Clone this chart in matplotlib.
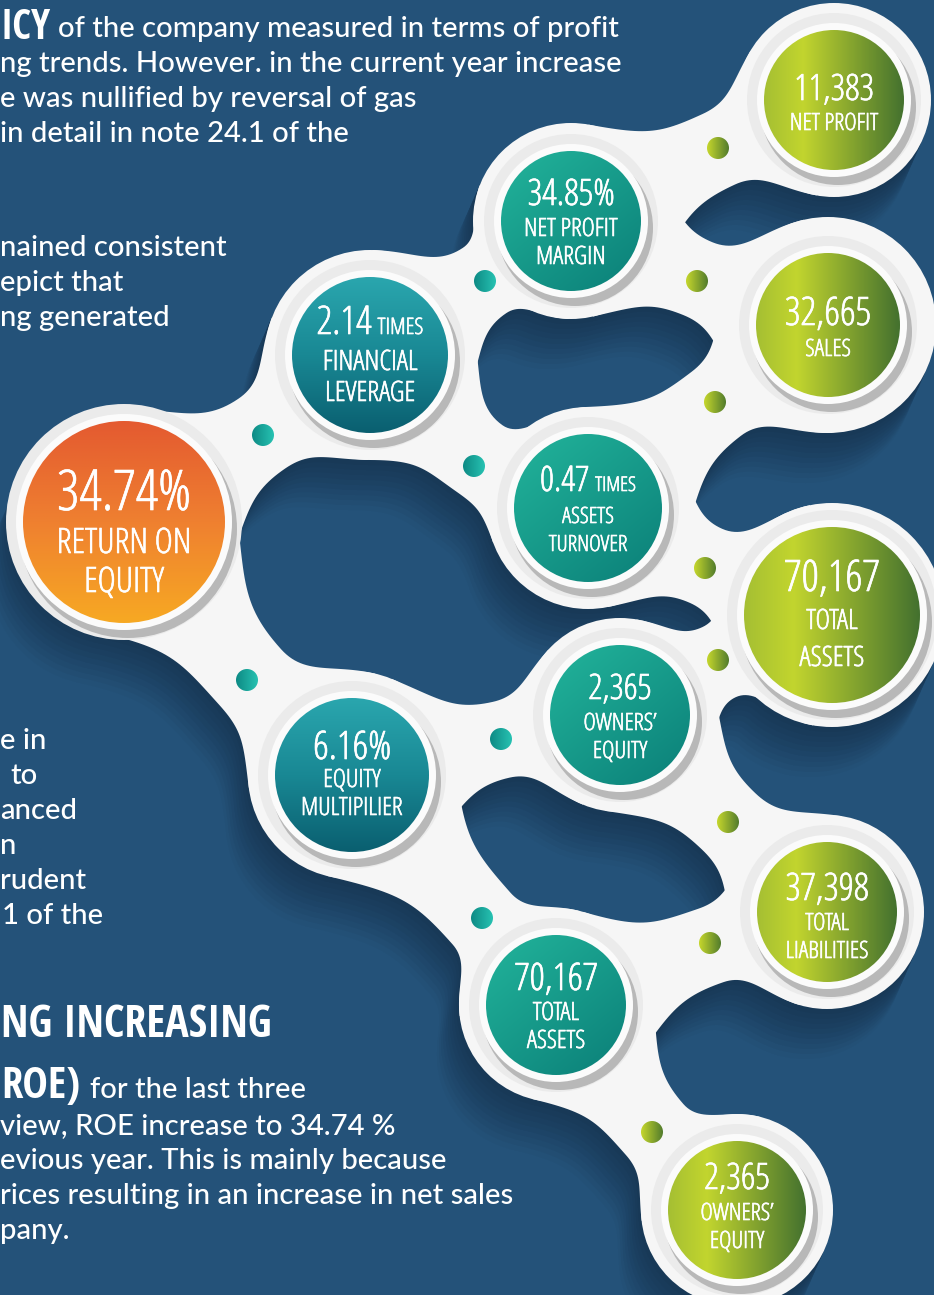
import os
import numpy as np
import matplotlib
matplotlib.use("Agg")
import matplotlib.pyplot as plt
from matplotlib.patches import Circle, Polygon
from matplotlib import font_manager as fm
from matplotlib import patheffects as pe
from matplotlib.textpath import TextPath
from matplotlib.colors import to_rgb

# ---------------- data ----------------
node_values = ["34.74%", "2.14", "6.16%", "34.85%", "0.47", "2,365", "70,167",
               "11,383", "32,665", "70,167", "37,398", "2,365"]
node_units = ["", "TIMES", "", "", "TIMES", "", "", "", "", "", "", ""]
node_labels = [["RETURN ON", "EQUITY"], ["FINANCIAL", "LEVERAGE"], ["EQUITY", "MULTIPILIER"],
               ["NET PROFIT", "MARGIN"], ["ASSETS", "TURNOVER"], ["OWNERS’", "EQUITY"],
               ["TOTAL", "ASSETS"], ["NET PROFIT"], ["SALES"], ["TOTAL", "ASSETS"],
               ["TOTAL", "LIABILITIES"], ["OWNERS’", "EQUITY"]]
node_kind = ["orange", "deepteal", "deepteal", "teal", "teal", "teal", "teal",
             "green", "green", "green", "green", "green"]
edges = [(0, 1), (0, 2), (1, 3), (1, 4), (3, 7), (3, 8), (4, 8), (4, 9),
         (2, 5), (2, 6), (5, 9), (5, 10), (6, 10), (6, 11)]
dot_kind = ["teal"] * 4 + ["green"] * 4 + ["teal"] * 2 + ["green"] * 4

headings = ["ICY", "NG INCREASING", "ROE)"]
top_lines = ["of the company measured in terms of profit",
             "ng trends. However. in the current year increase",
             "e was nullified by reversal of gas",
             "in detail in note 24.1 of the"]
mid_lines = ["nained consistent", "epict that", "ng generated"]
low_lines = ["e in", "to", "anced", "n", "rudent", "1 of the"]
bottom_lines = ["for the last three", "view, ROE increase to 34.74 %",
                "evious year. This is mainly because",
                "rices resulting in an increase in net sales", "pany."]

# ---------------- layout (pixels) ----------------
node_xy = [(124, 522), (370, 355), (352, 775), (571, 221), (588, 508), (620, 715),
           (556, 1005), (834, 100), (828, 325), (832, 615), (827, 912), (737, 1210)]
node_r = [101, 78, 77, 70, 74, 70, 70, 70, 72, 88, 70, 69]
node_rout = [113, 105, 104, 98, 101, 97, 97, 97, 108, 112, 97, 96]
val_cap = [40, 28, 28, 26, 25, 25, 27, 28, 28, 31, 27, 26]
val_w = [108, 47, 68, 82, 42, 63, 68, 64, 78, 85, 70, 64]
val_base = [510, 334, 759, 205, 491, 699, 990, 100, 325, 591, 900, 1189]
lab_cap = [25, 20, 18, 18, 16, 17, 18, 17, 17, 20, 17, 17]
lab_w = [[124, 78], [87, 84], [52, 92], [84, 60], [56, 80], [68, 52], [45, 56],
         [84], [45], [54, 69], [44, 84], [68, 52]]
lab_base = [[553, 592], [370, 401], [787, 815], [236, 264], [523, 551], [730, 758],
            [1020, 1048], [130], [356], [629, 666], [930, 958], [1220, 1248]]
dot_xy = [(263, 435), (247, 680), (485, 281), (474, 466), (718, 148), (697, 281),
          (715, 402), (705, 568), (501, 739), (482, 918), (718, 660), (728, 822),
          (710, 943), (652, 1132)]

W, H, DPI = 934, 1295, 100
BG = "#245279"
WIDTH_SLACK = 1.25

# ---------------- fonts ----------------
PREFIXES = ("dejavusans", "liberationsans", "notosans-", "notosansdisplay-",
            "roboto", "opensans", "open_sans", "lato", "inter")


def _weight(f):
    w = f.weight
    if isinstance(w, str):
        w = fm.weight_dict.get(w, 400)
    return int(w)


def narrow_pick(wmin, wmax, fallback):
    best, best_ratio = None, 1e9
    for f in fm.fontManager.ttflist:
        base = os.path.basename(f.fname).lower()
        if not base.startswith(PREFIXES):
            continue
        if "mono" in base or "serif" in base or "italic" in base or f.style != "normal":
            continue
        w = _weight(f)
        if not (wmin <= w <= wmax):
            continue
        fp = fm.FontProperties(fname=f.fname)
        try:
            cap = TextPath((0, 0), "H", size=100, prop=fp).get_extents().height
            wid = TextPath((0, 0), "34.74% NET PROFIT", size=100, prop=fp).get_extents().width
            ratio = wid / cap
        except Exception:
            continue
        if 40 < cap < 100 and ratio < best_ratio:
            best, best_ratio = fp, ratio
    return best if best is not None else fallback


cond = narrow_pick(280, 520, fm.FontProperties(family="DejaVu Sans", stretch="condensed"))
cond_bold = narrow_pick(600, 800, fm.FontProperties(family="DejaVu Sans", weight="bold"))

_files = {}
for f in fm.fontManager.ttflist:
    _files.setdefault(os.path.basename(f.fname).lower(), f.fname)


def pick(names, fallback):
    for n in names:
        if n.lower() in _files:
            return fm.FontProperties(fname=_files[n.lower()])
    return fallback


body = pick(["Lato-Medium.ttf", "Lato-Semibold.ttf", "Lato-Regular.ttf"],
            fm.FontProperties(family=["Lato", "DejaVu Sans"]))


def cap_ratio(fp):
    try:
        return TextPath((0, 0), "H", size=100, prop=fp).get_extents().height / 100.0
    except Exception:
        return 0.72


CAPS = {id(cond): cap_ratio(cond), id(cond_bold): cap_ratio(cond_bold), id(body): cap_ratio(body)}
THICKEN = [pe.withStroke(linewidth=0.45, foreground="white")]

# ---------------- figure ----------------
fig = plt.figure(figsize=(W / DPI, H / DPI), dpi=DPI)
fig.patch.set_facecolor(BG)
ax = fig.add_axes([0, 0, 1, 1])
ax.set_facecolor(BG)
renderer = fig.canvas.get_renderer()


def put(x, y, s, fp, cap_px, ha="center", maxw=None, z=20, color="white", effects=None):
    p = fp.copy()
    p.set_size(cap_px / CAPS[id(fp)] * 72.0 / DPI)
    t = ax.text(x, y, s, fontproperties=p, ha=ha, va="baseline", color=color, zorder=z)
    if effects:
        t.set_path_effects(effects)
    if maxw is not None:
        w = t.get_window_extent(renderer).width
        if w > maxw:
            p2 = p.copy()
            p2.set_size(p.get_size() * maxw / w)
            t.set_fontproperties(p2)
    return t


def width_of(t):
    return t.get_window_extent(renderer).width


# ---------------- gradients ----------------
STOPS = {
    "orange": [(0, "#e45a30"), (0.5, "#ef8030"), (1, "#f7a923")],
    "deepteal": [(0, "#2aa6ae"), (0.5, "#198894"), (1, "#0a5f70")],
    "teal": [(0, "#22b49b"), (1, "#0b7f78")],
    "green": [(0, "#a5bf33"), (0.28, "#c2d52e"), (1, "#44712f")],
    "dot_teal": [(0, "#0d8a84"), (1, "#27c2b2")],
    "dot_green": [(0, "#c6d72c"), (1, "#527c2d")],
}


def ramp(stops, t):
    pos = [p for p, _ in stops]
    cols = np.array([to_rgb(c) for _, c in stops])
    return np.stack([np.interp(t, pos, cols[:, k]) for k in range(3)], axis=-1)


def grad_disc(cx, cy, r, kind, z):
    n = 160
    yy, xx = np.mgrid[0:1:n * 1j, 0:1:n * 1j]
    if kind in ("orange", "deepteal"):
        t = yy
    elif kind == "teal":
        t = 0.45 * xx + 0.55 * yy
    else:
        t = xx
    img = ramp(STOPS[kind], t)
    clip = Circle((cx, cy), r, transform=ax.transData)
    im = ax.imshow(img, extent=(cx - r, cx + r, cy + r, cy - r), origin="upper",
                   interpolation="bilinear", zorder=z, aspect="auto")
    im.set_clip_path(clip)


# ---------------- connector bands ----------------
def cubic(P0, P1, P2, P3, n=28):
    t = np.linspace(0, 1, n)[:, None]
    return ((1 - t) ** 3) * P0 + 3 * ((1 - t) ** 2) * t * P1 + 3 * (1 - t) * t ** 2 * P2 + t ** 3 * P3


def band(c1, R1, c2, R2, neck, via, theta=np.radians(55)):
    """White concave connector between two circles, its waist centred on point `via`."""
    c1 = np.array(c1, float)
    c2 = np.array(c2, float)
    d = c2 - c1
    L = np.hypot(*d)
    u = d / L
    nv = np.array([-u[1], u[0]])
    rel = np.array(via, float) - c1
    s_v, h_v = rel @ u, rel @ nv
    lo, hi = R1 * 0.75, L - R2 * 0.75
    s_mid = min(max(s_v, lo), hi) if lo < hi else (lo + hi) / 2
    bow = 0.7 * h_v
    ct, st = np.cos(theta), np.sin(theta)

    def side(sign):
        P0 = np.array([R1 * ct, sign * R1 * st])
        P3 = np.array([s_mid, sign * neck + bow])
        a = max((s_mid - P0[0]) * 0.55, 8)
        P1 = P0 + a * np.array([st, -sign * ct])
        P2 = P3 - np.array([a * 0.8, 0])
        Q3 = np.array([L - R2 * ct, sign * R2 * st])
        b = max((Q3[0] - s_mid) * 0.55, 8)
        Q1 = P3 + np.array([b * 0.8, 0])
        Q2 = Q3 - b * np.array([st, sign * ct])
        return np.vstack([cubic(P0, P1, P2, P3), cubic(P3, Q1, Q2, Q3)[1:]])

    top = side(1)
    bot = side(-1)[::-1]
    local = np.vstack([[0, 0], top, [L, 0], bot])
    return c1 + local[:, 0:1] * u + local[:, 1:2] * nv


shapes = []
for (a, b), via in zip(edges, dot_xy):
    neck = 0.40 * min(node_rout[a], node_rout[b])
    shapes.append(("poly", band(node_xy[a], node_rout[a], node_xy[b], node_rout[b], neck, via)))
for (cx, cy), ro in zip(node_xy, node_rout):
    shapes.append(("circ", (cx, cy, ro)))

# long soft shadows (far layers first, lighter)
bg_rgb = np.array(to_rgb(BG))
dark_rgb = np.array(to_rgb("#173755"))
NS = 10
for k in range(NS, 0, -1):
    frac = k / NS
    dx, dy = -22 * frac, 50 * frac
    col = dark_rgb + (bg_rgb - dark_rgb) * (frac ** 1.2) * 0.92
    for kind, geo in shapes:
        if kind == "poly":
            ax.add_patch(Polygon(geo + np.array([dx, dy]), closed=True, facecolor=col,
                                 edgecolor="none", zorder=1 + (NS - k) * 0.01))
        else:
            cx, cy, ro = geo
            ax.add_patch(Circle((cx + dx, cy + dy), ro, facecolor=col, edgecolor="none",
                                zorder=1 + (NS - k) * 0.01))

for kind, geo in shapes:
    if kind == "poly":
        ax.add_patch(Polygon(geo, closed=True, facecolor="#f6f6f6", edgecolor="none", zorder=2))
    else:
        cx, cy, ro = geo
        ax.add_patch(Circle((cx, cy), ro, facecolor="#f6f6f6", edgecolor="none", zorder=2))

# ---------------- nodes ----------------
for i, ((cx, cy), r) in enumerate(zip(node_xy, node_r)):
    ax.add_patch(Circle((cx, cy), r + 17, facecolor="#ebebeb", edgecolor="none", zorder=3))
    ax.add_patch(Circle((cx + 4, cy + 7), r + 8, facecolor="#8f8f8f", alpha=0.55,
                        edgecolor="none", zorder=3.5))
    ax.add_patch(Circle((cx, cy), r + 7, facecolor="#fbfbfb", edgecolor="none", zorder=4))
    grad_disc(cx, cy, r, node_kind[i], 5)

# ---------------- dots ----------------
for (dx, dy), k in zip(dot_xy, dot_kind):
    grad_disc(dx, dy, 11, "dot_" + k, 6)

# ---------------- node texts ----------------
for i, (cx, cy) in enumerate(node_xy):
    if node_units[i]:
        tv = put(0, val_base[i], node_values[i], cond, val_cap[i], ha="left",
                 maxw=val_w[i] * WIDTH_SLACK, effects=THICKEN)
        tu = put(0, val_base[i], node_units[i], cond, val_cap[i] * 0.58, ha="left",
                 maxw=42 * WIDTH_SLACK, effects=THICKEN)
        gap = 6
        w1, w2 = width_of(tv), width_of(tu)
        x0 = cx - (w1 + gap + w2) / 2.0
        tv.set_x(x0)
        tu.set_x(x0 + w1 + gap)
    else:
        put(cx, val_base[i], node_values[i], cond, val_cap[i], maxw=val_w[i] * WIDTH_SLACK,
            effects=THICKEN)
    for lab, yb, lw in zip(node_labels[i], lab_base[i], lab_w[i]):
        put(cx, yb, lab, cond, lab_cap[i], maxw=lw * WIDTH_SLACK, effects=THICKEN)

# ---------------- side texts ----------------
BODY_CAP = 21
put(1, 39, headings[0], cond_bold, 36, ha="left", maxw=50)
put(1, 1037, headings[1], cond_bold, 40, ha="left", maxw=271)
put(1, 1098, headings[2], cond_bold, 37, ha="left", maxw=79)

for j, s in enumerate(top_lines):
    put(58 if j == 0 else 0, 37 + 35 * j, s, body, BODY_CAP, ha="left")
for j, s in enumerate(mid_lines):
    put(0, 256 + 35 * j, s, body, BODY_CAP, ha="left")
low_x = [0, 10, 0, 0, 0, 2]
for j, s in enumerate(low_lines):
    put(low_x[j], 749 + 35 * j, s, body, BODY_CAP, ha="left")
for j, s in enumerate(bottom_lines):
    put(90 if j == 0 else 0, 1098 + (0 if j == 0 else 36 + 35 * (j - 1)), s, body,
        BODY_CAP, ha="left")

ax.set_xlim(0, W)
ax.set_ylim(H, 0)
ax.set_aspect("auto")
ax.axis("off")
fig.savefig("out.png", dpi=DPI, facecolor=BG)
